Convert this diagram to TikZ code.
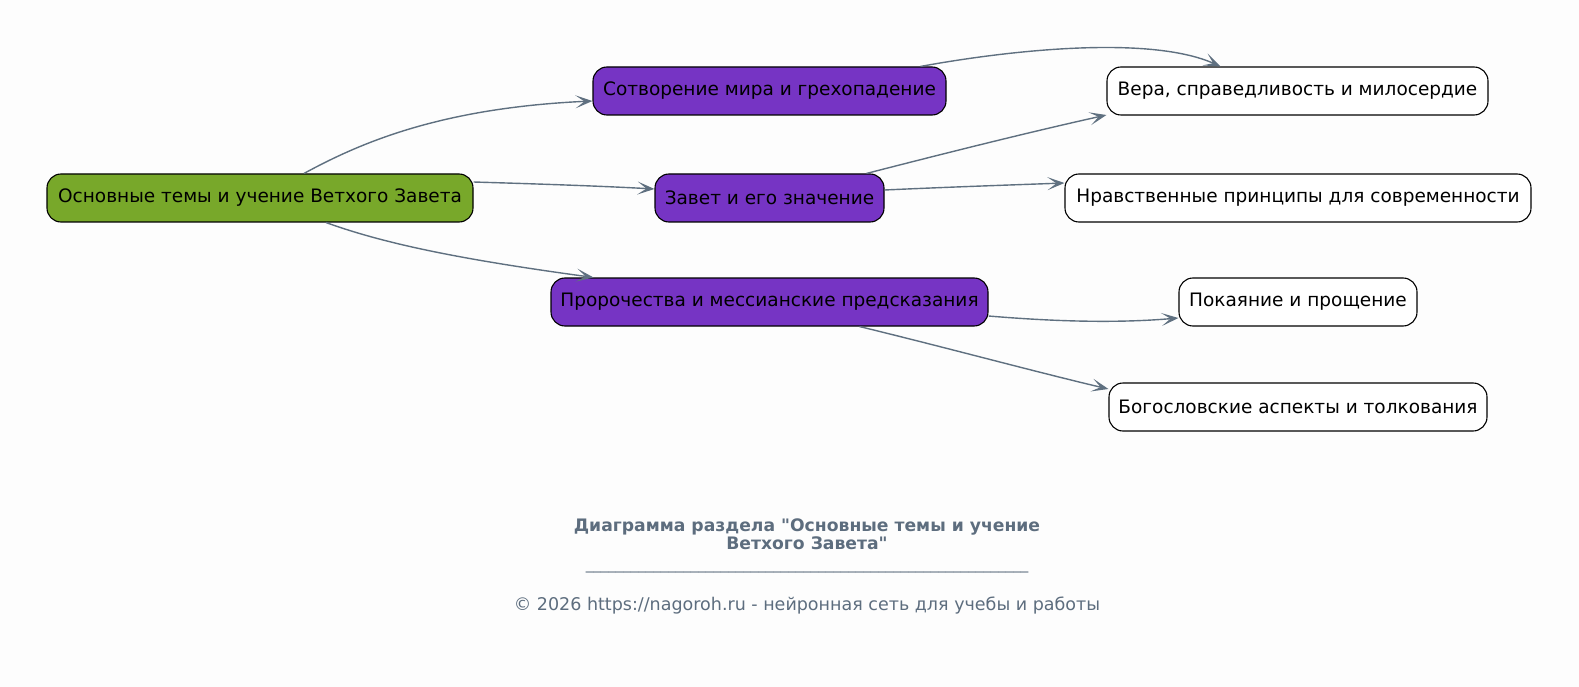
\documentclass[tikz,border=0pt]{standalone}
\usepackage{fontspec}
\setmainfont{DejaVu Sans}[Ligatures=TeXOff]
\usetikzlibrary{arrows.meta}
\definecolor{bgc}{HTML}{FDFDFD}
\definecolor{rootc}{HTML}{78A82A}
\definecolor{purp}{HTML}{7634C4}
\definecolor{edgec}{HTML}{5F7080}
\definecolor{footc}{HTML}{5D6D7E}
\def\tenunders{\_\_\_\_\_\_\_\_\_\_}
\tikzset{
  box/.style={draw=black, line width=1.1pt, rounded corners=14pt, minimum height=48pt,
    inner xsep=4pt, inner ysep=0pt, font=\fontsize{18.5}{22}\selectfont, text=black, anchor=center},
  rootbox/.style={box, fill=rootc},
  midbox/.style={box, fill=purp},
  leafbox/.style={box, fill=white},
  conn/.style={draw=edgec, line width=1.4pt, -{Stealth[length=17pt, width=13pt, inset=9pt]}},
  foot/.style={text=footc, align=center}
}
\begin{document}
\begin{tikzpicture}[x=1pt,y=-1pt]
\fill[bgc] (0,0) rectangle (1579,687);
\useasboundingbox (0,0) rectangle (1579,687);

\node[rootbox, minimum width=426pt] (root) at (260,198) {Основные темы и учение Ветхого Завета};
\node[midbox, minimum width=353pt] (m1) at (769.5,91) {Сотворение мира и грехопадение};
\node[midbox, minimum width=229pt] (m2) at (769.5,198) {Завет и его значение};
\node[midbox, minimum width=437pt] (m3) at (769.5,302) {Пророчества и мессианские предсказания};
\node[leafbox, minimum width=381pt] (l1) at (1297.5,91) {Вера, справедливость и милосердие};
\node[leafbox, minimum width=466pt] (l2) at (1298,198) {Нравственные принципы для современности};
\node[leafbox, minimum width=238pt] (l3) at (1298,302) {Покаяние и прощение};
\node[leafbox, minimum width=378pt] (l4) at (1298,407) {Богословские аспекты и толкования};

% edges
\draw[conn] ([xshift=44pt]root.north) .. controls (360,143) and (440,108) .. ([yshift=-10pt]m1.west);
\draw[conn] ([yshift=16pt]root.east) .. controls (540,184) and (600,186) .. ([yshift=9pt]m2.west);
\draw[conn] ([xshift=66pt]root.south) .. controls (380,242) and (450,258) .. ([xshift=-176pt]m3.north);
\draw[conn] ([xshift=151pt]m1.north) .. controls (1010,50) and (1150,35) .. ([xshift=-77pt]l1.north);
\draw[conn] ([xshift=97pt]m2.north) .. controls (950,152) and (1030,132) .. ([yshift=-24pt]l1.west);
\draw[conn] ([yshift=8pt]m2.east) .. controls (950,187) and (1010,185) .. ([yshift=15pt]l2.west);
\draw[conn] ([yshift=-14pt]m3.east) .. controls (1060,322) and (1120,323) .. ([yshift=-16pt]l3.west);
\draw[conn] ([xshift=90pt]m3.south) .. controls (940,346) and (1040,373) .. ([yshift=18pt]l4.west);

% footer
\node[foot, font=\bfseries\fontsize{17.2}{17.5}\selectfont] (title) at (807,534) {Диаграмма раздела "Основные темы и учение\\Ветхого Завета"};
\node[foot, font=\fontsize{15}{17}\selectfont] (sep) at (807,571) {\tenunders\tenunders\tenunders\tenunders\tenunders\_\_\_\_\_\_\_\_\_};
\node[foot, font=\fontsize{17.5}{20}\selectfont] (copy) at (807,606) {© 2026 https://nagoroh.ru - нейронная сеть для учебы и работы};
\end{tikzpicture}
\end{document}
